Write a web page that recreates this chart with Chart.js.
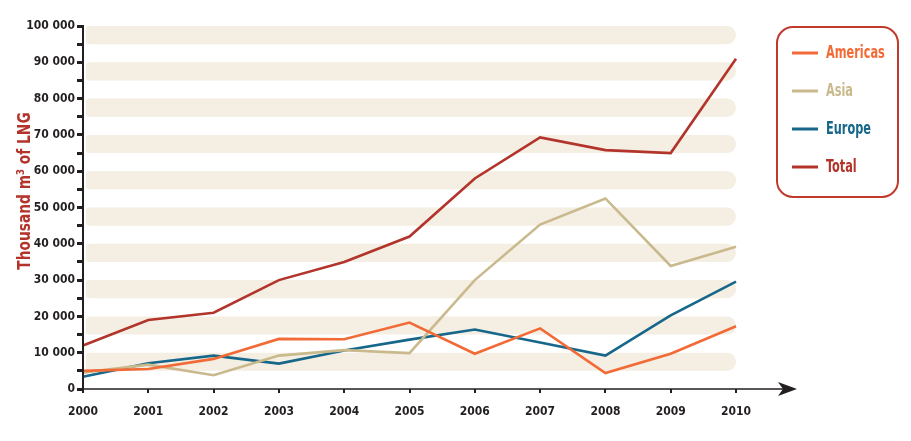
<!DOCTYPE html>
<html>
<head>
<meta charset="utf-8">
<script src="https://cdn.jsdelivr.net/npm/chart.js@4/dist/chart.umd.min.js"></script>
<style>
html,body{margin:0;padding:0;background:#fff;}
canvas{display:block;}
</style>
</head>
<body>
<canvas id="c" width="911" height="441"></canvas>
<script>
const years = ['2000','2001','2002','2003','2004','2005','2006','2007','2008','2009','2010'];
const americas = [5000, 5500, 8300, 13800, 13700, 18300, 9700, 16700, 4400, 9700, 17300];
const asia     = [4500, 6700, 3800, 9200, 10700, 9900, 30000, 45300, 52500, 33900, 39200];
const europe   = [3400, 7100, 9200, 7000, 10600, 13600, 16400, 12800, 9200, 20300, 29600];
const total    = [12000, 19000, 21000, 30000, 35000, 42000, 58000, 69300, 65800, 65000, 91000];
const seriesNames = ['Americas','Asia','Europe','Total'];
const seriesColors = ['#f26a36','#c9b98c','#16678a','#b3342b'];
const yTitle = 'Thousand m\u00B3 of LNG';

const FONT = "'Liberation Sans Narrow','DejaVu Sans Condensed','Arial Narrow',sans-serif";
const DARK = '#231f20';

function fmt(v){ return String(v).replace(/\B(?=(\d{3})+(?!\d))/g,' '); }

const decor = {
  id:'decor',
  beforeDatasetsDraw(chart){
    const {ctx, scales:{x,y}} = chart;
    const left = x.getPixelForValue(0) + 3;
    const right = x.getPixelForValue(years.length-1);
    ctx.save();
    ctx.fillStyle = '#f4eee3';
    for(let v=5000; v<100000; v+=10000){
      const top = y.getPixelForValue(v+5000);
      const bot = y.getPixelForValue(v);
      const h = bot-top;
      ctx.beginPath();
      ctx.roundRect(left, top, right-left, h, [3, h/2, h/2, 3]);
      ctx.fill();
    }
    ctx.restore();
  },
  afterDraw(chart){
    const {ctx, scales:{x,y}} = chart;
    const x0 = x.getPixelForValue(0);
    const y0 = y.getPixelForValue(0);
    const yTop = y.getPixelForValue(100000);
    ctx.save();
    ctx.strokeStyle = DARK; ctx.fillStyle = DARK;
    // y axis
    ctx.lineWidth = 2;
    ctx.beginPath(); ctx.moveTo(x0, yTop-1); ctx.lineTo(x0, y0); ctx.stroke();
    // x axis with arrow
    const tip = 797;
    ctx.lineWidth = 1.6;
    ctx.beginPath(); ctx.moveTo(x0-1, y0); ctx.lineTo(tip-10, y0); ctx.stroke();
    ctx.beginPath();
    ctx.moveTo(tip, y0);
    ctx.lineTo(tip-19, y0-7);
    ctx.lineTo(tip-14, y0);
    ctx.lineTo(tip-19, y0+7);
    ctx.closePath(); ctx.fill();
    // y title
    ctx.save();
    ctx.translate(25, 191);
    ctx.rotate(-Math.PI/2);
    ctx.scale(0.85, 1);
    ctx.font = "bold 18px " + FONT;
    ctx.fillStyle = '#b3342b';
    ctx.textAlign = 'center'; ctx.textBaseline = 'middle';
    ctx.fillText(yTitle, 0, 0);
    ctx.restore();
    // legend box
    const bx=777, by=27, bw=121, bh=170;
    ctx.lineWidth = 2;
    ctx.strokeStyle = '#c0392b';
    ctx.beginPath(); ctx.roundRect(bx, by, bw, bh, 16); ctx.stroke();
    const rows = [53, 91, 129, 167];
    chart.data.datasets.forEach((ds,i)=>{
      ctx.strokeStyle = ds.borderColor;
      ctx.lineWidth = 3;
      ctx.beginPath(); ctx.moveTo(792, rows[i]); ctx.lineTo(818, rows[i]); ctx.stroke();
      ctx.save();
      ctx.translate(826, rows[i]+1);
      ctx.scale(0.74, 1);
      ctx.font = "bold 17px " + FONT;
      ctx.textBaseline = 'middle'; ctx.textAlign = 'left';
      ctx.fillStyle = ds.borderColor;
      ctx.fillText(ds.label, 0, 0);
      ctx.restore();
    });
    ctx.restore();
  }
};

const mk = (i, data) => ({
  label: seriesNames[i], data,
  borderColor: seriesColors[i], backgroundColor: seriesColors[i],
  borderWidth: 2.6, pointRadius: 0, tension: 0, fill: false,
  borderJoinStyle: 'miter'
});

new Chart(document.getElementById('c'), {
  type: 'line',
  data: {
    labels: years,
    datasets: [mk(0, americas), mk(1, asia), mk(2, europe), mk(3, total)]
  },
  options: {
    responsive: false,
    animation: false,
    events: [],
    layout: { padding: { top: 26, right: 175, left: 0, bottom: 0 } },
    plugins: { legend: { display: false }, tooltip: { enabled: false } },
    scales: {
      x: {
        type: 'category', offset: false,
        grid: { display: true, drawOnChartArea: false, drawTicks: true, tickLength: 4, color: DARK, lineWidth: 2 },
        border: { display: false },
        ticks: { color: DARK, font: { family: FONT, size: 12, weight: 'bold' }, padding: 12, maxRotation: 0, autoSkip: false },
        afterFit(s){ s.height = 52; }
      },
      y: {
        min: 0, max: 100000,
        grid: { display: true, drawOnChartArea: false, drawTicks: true, tickLength: 6, color: DARK, lineWidth: 3 },
        border: { display: false },
        ticks: { stepSize: 5000, color: DARK, padding: 2, autoSkip: false,
          font: { family: FONT, size: 12, weight: 'bold' },
          callback: (v) => (v % 10000 === 0 ? fmt(v) : '') },
        afterFit(s){ s.width = 83; }
      }
    }
  },
  plugins: [decor]
});
</script>
</body>
</html>
